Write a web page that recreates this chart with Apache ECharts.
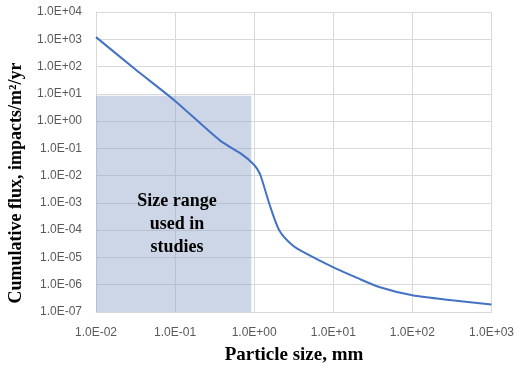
<!DOCTYPE html>
<html>
<head>
<meta charset="utf-8">
<script src="https://cdn.jsdelivr.net/npm/echarts@6/dist/echarts.min.js"></script>
<style>html,body{margin:0;padding:0;background:#fff;}#c{width:517px;height:366px;}</style>
</head>
<body>
<div id="c"></div>
<script>
var particleSize = [0.01, 0.0316, 0.1, 0.365, 0.7, 0.96, 1.1, 1.22, 1.55, 2.07, 3.05, 4.5, 9.75, 20, 38, 100, 316, 1000];
var cumulativeFlux = [1200, 78, 5.5, 0.2, 0.06, 0.028, 0.017, 0.0091, 0.00095, 0.0001, 2.8e-5, 1.4e-5, 4.5e-6, 1.78e-6, 8.3e-7, 4.1e-7, 2.7e-7, 1.9e-7];
var studyRangeX = [0.01, 0.92];
var studyRangeY = [1e-7, 8.5];
var studyLabel = 'Size range\nused in\nstudies';
var xTitle = 'Particle size, mm';
var yTitle = 'Cumulative flux, impacts/m\u00B2/yr';

function sci(v) {
  var e = Math.round(Math.log10(v));
  var s = e < 0 ? '-' : '+';
  var a = Math.abs(e);
  return '1.0E' + s + (a < 10 ? '0' + a : a);
}

var data = particleSize.map(function (x, i) { return [x, cumulativeFlux[i]]; });

var chart = echarts.init(document.getElementById('c'));
chart.setOption({
  animation: false,
  grid: { left: 96, right: 24, top: 12, bottom: 54 },
  xAxis: {
    type: 'log', logBase: 10, min: 0.01, max: 1000, interval: 1,
    axisLine: { lineStyle: { color: '#d9d9d9' } },
    axisTick: { show: false },
    splitLine: { show: true, lineStyle: { color: '#d9d9d9', width: 1 } },
    axisLabel: { formatter: sci, color: '#595959', fontFamily: 'Liberation Sans', fontSize: 12, margin: 15 }
  },
  yAxis: {
    type: 'log', logBase: 10, min: 1e-7, max: 1e4, interval: 1,
    axisLine: { show: true, lineStyle: { color: '#d9d9d9' } },
    axisTick: { show: false },
    splitLine: { show: true, lineStyle: { color: '#d9d9d9', width: 1 } },
    axisLabel: { formatter: sci, color: '#595959', fontFamily: 'Liberation Sans', fontSize: 12, margin: 14 }
  },
  graphic: [
    { type: 'text', z: 100, x: 294, y: 355, style: { text: xTitle, font: 'bold 19px "Liberation Serif"', fill: '#000', align: 'center', verticalAlign: 'middle' } },
    { type: 'text', z: 100, x: 16, y: 183, rotation: Math.PI / 2, style: { text: yTitle, font: 'bold 18px "Liberation Serif"', fill: '#000', align: 'center', verticalAlign: 'middle' } },
    { type: 'text', z: 100, x: 177, y: 224, style: { text: studyLabel, font: 'bold 18px "Liberation Serif"', fill: '#000', align: 'center', verticalAlign: 'middle', lineHeight: 23 } }
  ],
  series: [{
    type: 'line',
    data: data,
    smooth: 0.25,
    showSymbol: false,
    lineStyle: { color: '#4472C4', width: 2 },
    z: 3,
    markArea: {
      silent: true,
      itemStyle: { color: 'rgba(143,164,199,0.45)' },
      data: [[{ coord: [studyRangeX[0], studyRangeY[0]] }, { coord: [studyRangeX[1], studyRangeY[1]] }]]
    }
  }]
});
</script>
</body>
</html>
